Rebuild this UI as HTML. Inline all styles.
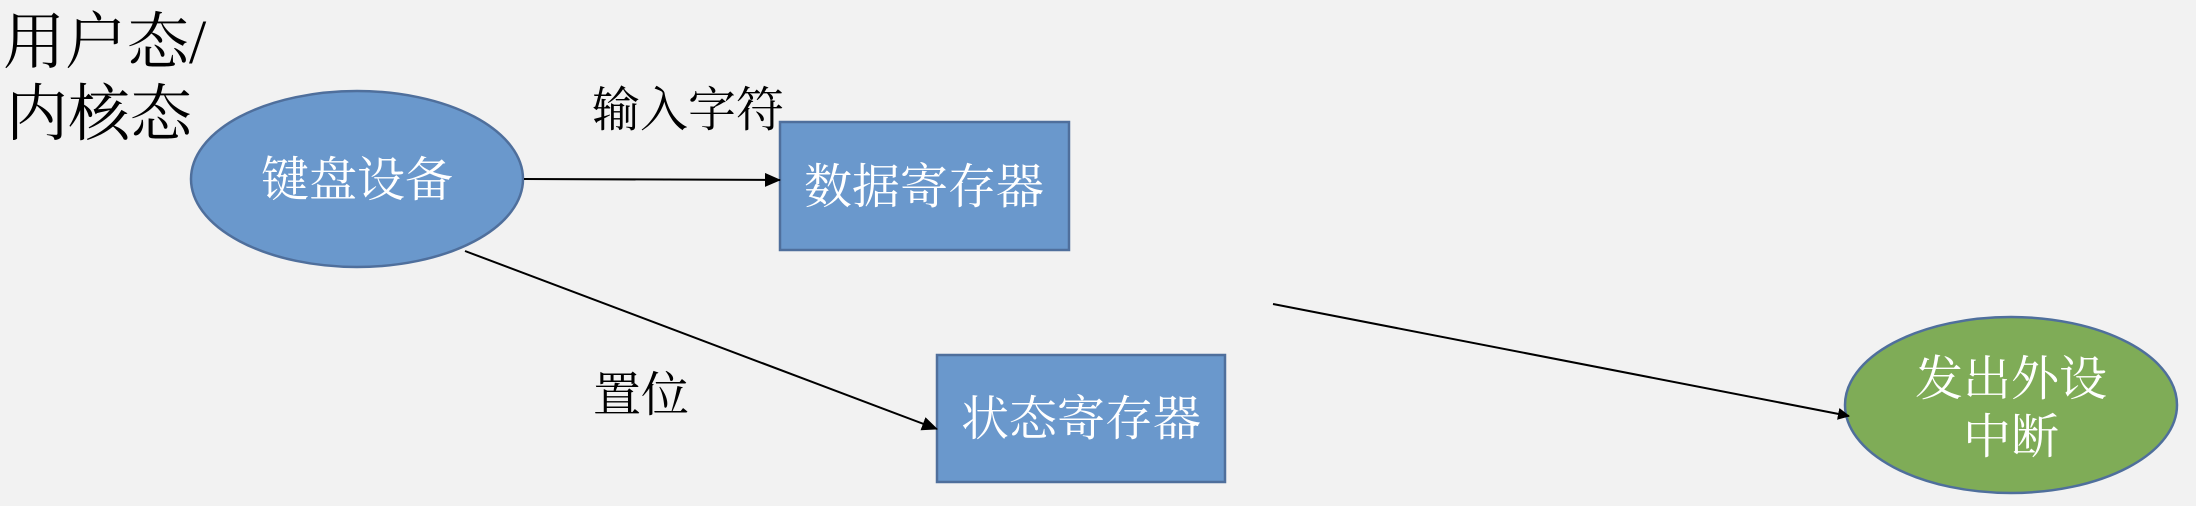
<!DOCTYPE html>
<html><head><meta charset="utf-8"><style>
html,body{margin:0;padding:0;background:#f2f2f2;}
svg{display:block}
text{font-family:"Liberation Serif","Noto Serif CJK SC",serif;}
</style></head><body>
<svg width="2196" height="506" viewBox="0 0 2196 506" xmlns="http://www.w3.org/2000/svg">
<defs><marker id="a" markerWidth="12" markerHeight="12" refX="11" refY="6" orient="auto" markerUnits="userSpaceOnUse"><path d="M0,0 L12,6 L0,12 z" fill="#000"/></marker>
<marker id="b" markerWidth="16" markerHeight="14" refX="15" refY="7" orient="auto" markerUnits="userSpaceOnUse"><path d="M0,0 L16,7 L0,14 z" fill="#000"/></marker></defs>
<rect width="2196" height="506" fill="#f2f2f2"/>
<text x="3" y="63" font-size="62" fill="#000">用户态/</text>
<text x="6" y="135" font-size="62" fill="#000">内核态</text>
<ellipse cx="357" cy="179" rx="166" ry="88" fill="#6a98cc" stroke="#4f6f9c" stroke-width="2.5"/>
<text x="357" y="196" font-size="48" fill="#fff" text-anchor="middle">键盘设备</text>
<rect x="780" y="122" width="289" height="128" fill="#6a98cc" stroke="#4f6f9c" stroke-width="2.5"/>
<text x="924" y="203" font-size="48" fill="#fff" text-anchor="middle">数据寄存器</text>
<rect x="937" y="355" width="288" height="127" fill="#6a98cc" stroke="#4f6f9c" stroke-width="2.5"/>
<text x="1081" y="435" font-size="48" fill="#fff" text-anchor="middle">状态寄存器</text>
<ellipse cx="2011" cy="405" rx="166" ry="88" fill="#7fac57" stroke="#4f6f9c" stroke-width="2.5"/>
<text x="2011" y="395" font-size="48" fill="#fff" text-anchor="middle">发出外设</text>
<text x="2011" y="453" font-size="48" fill="#fff" text-anchor="middle">中断</text>
<line x1="524" y1="179" x2="780" y2="180" stroke="#000" stroke-width="2" marker-end="url(#b)"/>
<line x1="465" y1="251" x2="937" y2="429" stroke="#000" stroke-width="2" marker-end="url(#b)"/>
<line x1="1273" y1="304" x2="1849" y2="416" stroke="#000" stroke-width="2" marker-end="url(#a)"/>
<text x="592" y="126" font-size="48" fill="#000">输入字符</text>
<text x="593" y="411" font-size="48" fill="#000">置位</text>
</svg>
</body></html>
